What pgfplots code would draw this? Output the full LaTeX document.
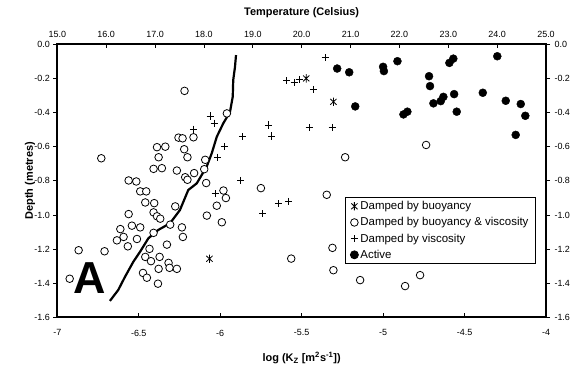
\documentclass[border=0pt]{standalone}
\usepackage{fontspec}
\setmainfont{Liberation Sans}
\usepackage{pgfplots}
\pgfplotsset{compat=1.18}
\pgfdeclareplotmark{xstar}{%
  \pgfpathmoveto{\pgfqpoint{0pt}{\pgfplotmarksize}}%
  \pgfpathlineto{\pgfqpoint{0pt}{-\pgfplotmarksize}}%
  \pgfpathmoveto{\pgfqpoint{-0.75\pgfplotmarksize}{0.7\pgfplotmarksize}}%
  \pgfpathlineto{\pgfqpoint{0.75\pgfplotmarksize}{-0.7\pgfplotmarksize}}%
  \pgfpathmoveto{\pgfqpoint{-0.75\pgfplotmarksize}{-0.7\pgfplotmarksize}}%
  \pgfpathlineto{\pgfqpoint{0.75\pgfplotmarksize}{0.7\pgfplotmarksize}}%
  \pgfusepathqstroke}
\pgfplotsset{mk/.style={only marks, legend image code/.code={\draw[mark repeat=2,mark phase=2,##1] plot coordinates {(0bp,0bp) (4bp,0bp) (8bp,0bp)};}}}
\begin{document}
\begin{tikzpicture}
\useasboundingbox (-57.3bp,-50.7bp) rectangle (513.7bp,317.3bp);
\begin{axis}[
  at={(0,0)}, anchor=south west,
  scale only axis, width=488.7bp, height=273bp,
  xmin=-7, xmax=-4, ymin=-1.6, ymax=0,
  axis line style={line width=1.9bp},
  xtick={-7,-6.5,-6,-5.5,-5,-4.5,-4},
  xticklabels={-7,-6.5,-6,-5.5,-5,-4.5,-4},
  ytick={-1.6,-1.4,-1.2,-1,-0.8,-0.6,-0.4,-0.2,0},
  yticklabels={-1.6,-1.4,-1.2,-1.0,-0.8,-0.6,-0.4,-0.2,0.0},
  xtick pos=left, ytick pos=left, xtick align=inside, ytick align=outside,
  major tick length=4bp, tick style={line width=0.8bp, black},
  tick label style={font=\fontsize{9}{10}\selectfont},
  xticklabel style={yshift=-9bp},
  yticklabel style={xshift=0bp},
  xlabel={log (K\textsubscript{Z} [m\textsuperscript{2}s\textsuperscript{-1}])},
  ylabel={Depth (metres)},
  every axis x label/.style={at={(axis description cs:0.5,0)}, yshift=-40.7bp, anchor=center, font=\bfseries\fontsize{11}{12}\selectfont},
  every axis y label/.style={at={(axis description cs:0,0.5)}, xshift=-27.3bp, rotate=90, anchor=center, font=\bfseries\fontsize{11}{12}\selectfont},
  legend style={at={(axis description cs:0.5887,0.4407)}, anchor=north west, draw=black, line width=0.8bp,
    font=\fontsize{11.5}{12}\selectfont, inner xsep=5bp, inner ysep=2bp, row sep=2.4bp, cells={anchor=west}},
]
\addplot[black, line width=2.2bp, forget plot] coordinates {
(-6.677,-1.504) (-6.626,-1.440) (-6.584,-1.362) (-6.533,-1.274) (-6.492,-1.216)
(-6.441,-1.137) (-6.380,-1.088) (-6.308,-1.049) (-6.247,-0.971) (-6.196,-0.854)
(-6.144,-0.815) (-6.083,-0.717) (-6.052,-0.639) (-6.021,-0.542) (-5.981,-0.463)
(-5.940,-0.397) (-5.923,-0.307) (-5.920,-0.209) (-5.909,-0.131) (-5.903,-0.063)
};
\addplot[mk, mark=xstar, mark size=4.2bp, line width=0.8bp, black] coordinates {
(-5.472,-0.200) (-5.305,-0.337) (-6.066,-1.257)
};
\addlegendentry{Damped by buoyancy}
\addplot[mk, mark=*, mark size=3.8bp, line width=0.8bp, draw=black, fill=white] coordinates {
(-6.219,-0.273) (-5.959,-0.405) (-6.256,-0.547) (-6.231,-0.551) (-6.164,-0.545)
(-6.388,-0.603) (-6.337,-0.600) (-6.221,-0.615) (-6.730,-0.668) (-6.378,-0.662)
(-6.201,-0.662) (-6.092,-0.677) (-6.409,-0.730) (-6.358,-0.726) (-6.266,-0.740)
(-6.215,-0.779) (-6.201,-0.794) (-6.160,-0.755) (-6.098,-0.732) (-6.086,-0.813)
(-6.562,-0.798) (-6.515,-0.804) (-6.491,-0.862) (-6.454,-0.862) (-6.460,-0.927)
(-6.405,-0.931) (-6.276,-0.950) (-6.409,-0.985) (-6.388,-1.008) (-6.368,-1.022)
(-6.562,-0.995) (-6.542,-1.063) (-6.491,-1.073) (-6.613,-1.083) (-6.593,-1.129)
(-6.634,-1.149) (-6.511,-1.141) (-6.567,-1.184) (-6.409,-1.105) (-6.307,-1.057)
(-6.235,-1.073) (-6.229,-1.129) (-6.327,-1.174) (-6.434,-1.199) (-6.869,-1.207)
(-6.710,-1.213) (-6.460,-1.246) (-6.425,-1.271) (-6.372,-1.246) (-6.378,-1.316)
(-6.317,-1.281) (-6.311,-1.310) (-6.266,-1.316) (-6.474,-1.340) (-6.450,-1.368)
(-6.382,-1.403) (-6.924,-1.374) (-6.021,-0.946) (-5.980,-0.857) (-5.965,-0.901)
(-6.082,-1.004) (-5.990,-1.043) (-5.233,-0.662) (-5.750,-0.843) (-5.346,-0.882)
(-5.311,-1.193) (-5.305,-1.324) (-5.141,-1.382) (-5.564,-1.256) (-4.773,-1.353)
(-4.865,-1.417) (-4.736,-0.590)
};
\addlegendentry{Damped by buoyancy \& viscosity}
\addplot[mk, mark=+, mark size=3.6bp, line width=0.8bp, black] coordinates {
(-5.356,-0.078) (-5.591,-0.214) (-5.546,-0.226) (-5.515,-0.206) (-5.427,-0.265)
(-5.703,-0.473) (-5.683,-0.537) (-5.863,-0.541) (-5.454,-0.489) (-5.313,-0.487)
(-5.974,-0.600) (-6.061,-0.420) (-6.037,-0.463) (-6.164,-0.498) (-6.017,-0.662)
(-6.031,-0.876) (-5.873,-0.798) (-5.642,-0.934) (-5.581,-0.921) (-5.738,-0.993)
};
\addlegendentry{Damped by viscosity}
\addplot[mk, mark=*, mark size=4.0bp, black] coordinates {
(-5.282,-0.142) (-5.208,-0.164) (-5.000,-0.132) (-4.995,-0.157) (-4.912,-0.099)
(-5.171,-0.364) (-4.593,-0.109) (-4.569,-0.084) (-4.299,-0.070) (-4.718,-0.187)
(-4.712,-0.245) (-4.691,-0.346) (-4.646,-0.333) (-4.630,-0.308) (-4.564,-0.292)
(-4.548,-0.395) (-4.388,-0.284) (-4.247,-0.331) (-4.155,-0.350) (-4.127,-0.419)
(-4.186,-0.531) (-4.875,-0.411) (-4.851,-0.395)
};
\addlegendentry{Active}
\node[font=\bfseries\fontsize{45}{45}\selectfont, inner sep=0pt, anchor=center] at (axis cs:-6.804,-1.373) {A};
\end{axis}
\begin{axis}[
  at={(0,0)}, anchor=south west,
  scale only axis, width=488.7bp, height=273bp,
  xmin=15, xmax=25, ymin=-1.6, ymax=0,
  axis line style={draw=none},
  xtick={15,16,17,18,19,20,21,22,23,24,25},
  xticklabels={15.0,16.0,17.0,18.0,19.0,20.0,21.0,22.0,23.0,24.0,25.0},
  ytick={-1.6,-1.4,-1.2,-1,-0.8,-0.6,-0.4,-0.2,0},
  yticklabels={-1.6,-1.4,-1.2,-1.0,-0.8,-0.6,-0.4,-0.2,0.0},
  xtick pos=right, xticklabel pos=right, xtick align=inside,
  ytick pos=right, yticklabel pos=right, ytick align=outside,
  major tick length=4bp, tick style={line width=0.8bp, black},
  tick label style={font=\fontsize{9}{10}\selectfont},
  xticklabel style={yshift=3bp},
  yticklabel style={xshift=1bp},
  xlabel={Temperature (Celsius)},
  every axis x label/.style={at={(axis description cs:0.5,1)}, yshift=31.5bp, anchor=center, font=\bfseries\fontsize{11}{12}\selectfont},
]
\addplot[draw=none, forget plot] coordinates {(15,-1.6)};
\end{axis}
\end{tikzpicture}
\end{document}
